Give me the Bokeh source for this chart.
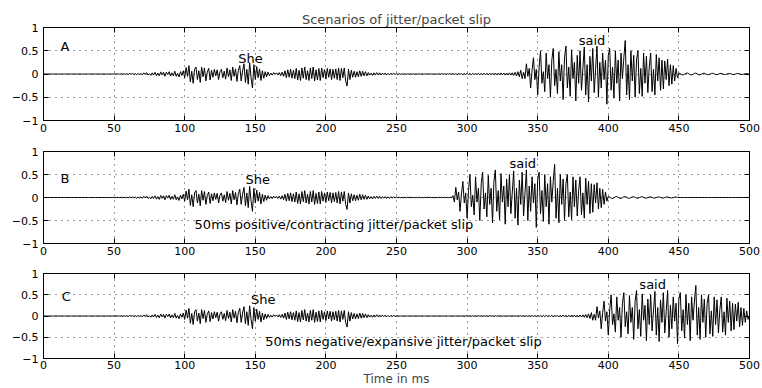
import numpy as np
from bokeh.plotting import figure
from bokeh.models import LinearAxis, FixedTicker, Label, Range1d
from bokeh.layouts import column
from bokeh.embed import file_html
from bokeh.resources import INLINE

# ---- waveform pieces (1 sample per ms) ----
she = [
    0, 0, 0, 0, 0, 0, 0, 0, 0, 0,
    0, 0, 0, 0, 0, 0, 0, 0, 0, 0,
    0, 0, 0, 0, 0, 0, 0, 0, 0, 0,
    0, 0, 0, 0, 0, 0, 0, 0, 0, 0,
    0, 0, 0, 0, 0, 0.001, -0.001, 0.001, -0.002, 0.002,
    -0.003, 0.004, -0.003, 0.005, -0.004, 0.006, -0.005, 0.004, -0.006, 0.007,
    -0.008, 0.01, -0.007, 0.012, -0.01, 0.009, -0.013, 0.011, -0.012, 0.015,
    -0.02, 0.025, -0.01, 0.03, -0.022, 0.008, -0.028, 0.024, -0.02, 0.035,
    -0.035, 0.018, -0.04, 0.045, -0.02, 0.038, -0.05, 0.04, -0.013, 0.048,
    -0.045, 0.025, -0.04, 0.06, -0.05, 0.012, -0.065, 0.05, -0.03, 0.07,
    -0.08, 0.14, -0.05, 0.18, -0.17, 0.06, -0.2, 0.1, 0.15, -0.12,
    0.07, -0.18, 0.15, -0.06, 0.13, -0.15, 0.04, 0.12, -0.13, 0.08,
    -0.07, 0.1, -0.04, 0.09, -0.12, 0.05, 0.1, -0.08, 0.06, -0.11,
    0.13, -0.06, 0.09, -0.14, 0.15, -0.05, 0.11, -0.16, 0.08, 0.18,
    -0.15, 0.07, 0.22, -0.18, 0.1, -0.22, 0.24, -0.08, -0.3, 0.2,
    -0.12, 0.16, -0.08, 0.11, -0.14, 0.07, -0.09, 0.05, -0.06, 0.04,
    -0.03, 0.02, -0.025, 0.03, -0.01, 0.025, -0.02, 0.03, -0.035, 0.04,
    -0.05, 0.07, -0.08, 0.09, -0.07, 0.1, -0.09, 0.08, -0.1, 0.12,
    -0.13, 0.08, -0.14, 0.13, -0.09, 0.15, -0.12, 0.07, -0.14, 0.13,
    -0.1, 0.15, -0.15, 0.09, -0.13, 0.12, -0.14, 0.13, -0.08, 0.1,
    -0.11, 0.12, -0.07, 0.11, -0.12, 0.1, -0.09, 0.11, -0.12, 0.13,
    -0.14, 0.12, -0.08, 0.13, -0.15, -0.26, 0.1, -0.12, 0.08, -0.07,
    0.06, -0.07, 0.05, -0.06, 0.07, -0.05, 0.06, -0.04, 0.05, -0.04,
    0.03, -0.025, 0.02, -0.03, 0.025, -0.02, 0.03, -0.02, 0.025, -0.02,
    0.02, -0.015, 0.02, -0.02, 0.015, -0.02, 0.015, -0.01, 0.015, -0.01,
]
gap = [
    0.008, -0.006, 0.007, -0.008, 0.006, -0.007, 0.005, -0.006, 0.007, -0.005,
    0.006, -0.007, 0.005, -0.006, 0.004, -0.005, 0.006, -0.004, 0.005, -0.006,
    0.004, -0.005, 0.006, -0.004, 0.005, -0.006, 0.004, -0.005, 0.003, -0.004,
    0.005, -0.004, 0.006, -0.005, 0.004, -0.006, 0.005, -0.004, 0.006, -0.005,
    0.007, -0.008, 0.006, -0.01, 0.012, -0.009, 0.011, -0.013, 0.01, -0.012,
    0.014, -0.012, 0.015, -0.016, 0.013, -0.015, 0.017, -0.014, 0.016, -0.018,
    0.015, -0.017, 0.019, -0.016, 0.018, -0.02, 0.017, -0.019, 0.021, -0.018,
    0.02, -0.022, 0.019, -0.021, 0.023, -0.02, 0.022, -0.024, 0.021, -0.023,
    0.025, -0.022, 0.027, -0.03, 0.035, -0.04, 0.05, -0.06, 0.08, -0.1,
]
said = [
    0.04, -0.1, 0.22, -0.05, 0.12, -0.3, 0.08, 0.35, -0.12, 0.1,
    -0.45, 0.15, 0.5, -0.2, 0.05, -0.38, 0.45, -0.1, 0.2, -0.5,
    0.3, 0.55, -0.25, 0.1, -0.42, 0.48, -0.15, 0.2, -0.55, 0.35,
    0.6, -0.3, 0.15, -0.48, 0.52, -0.1, 0.25, -0.58, 0.4, -0.2,
    0.5, -0.35, 0.12, 0.58, -0.45, 0.2, -0.6, 0.38, -0.15, 0.55,
    -0.4, 0.1, 0.6, -0.5, 0.25, -0.3, 0.45, -0.12, 0.3, -0.65,
    0.4, 0.55, -0.35, 0.15, -0.52, 0.5, -0.2, 0.3, -0.58, 0.45,
    -0.1, 0.35, 0.72, -0.45, 0.2, -0.55, 0.5, -0.15, 0.4, -0.5,
    0.3, 0.5, -0.42, 0.12, -0.48, 0.45, -0.2, 0.38, -0.4, 0.15,
    0.45, -0.38, 0.1, -0.45, 0.42, -0.15, 0.35, -0.35, 0.3, -0.32,
    0.28, -0.12, 0.32, -0.25, 0.2, -0.22, 0.18, -0.15, 0.12, -0.08,
]
tail = [
    0.02, 0.01, -0.015, -0.02, -0.005, 0.015, 0.02, 0.005, -0.015, -0.018,
    -0.005, 0.014, 0.018, 0.004, -0.014, -0.017, -0.004, 0.013, 0.016, 0.004,
    -0.012, -0.015, -0.003, 0.012, 0.015, 0.003, -0.011, -0.014, -0.003, 0.011,
    0.013, 0.003, -0.01, -0.012, -0.002, 0.01, 0.012, 0.002, -0.009, -0.011,
    -0.002, 0.009, 0.01, 0.002, -0.008, -0.01, -0.002, 0.008, 0.009, 0.002,
]
silence = [0.0] * 50

x_ticks = [0, 50, 100, 150, 200, 250, 300, 350, 400, 450, 500]
y_ticks = [-1, -0.5, 0, 0.5, 1]
y_tick_labels = {-1: "\u22121", -0.5: "\u22120.5", 0: "0", 0.5: "0.5", 1: "1"}

title_text = "Scenarios of jitter/packet slip"
xlabel_text = "Time in ms"

# scenario A: original; B: 50 ms contracted; C: 50 ms expanded
wave_a = she + gap + said + tail + [0.0]
wave_b = she + gap[:40] + said + tail + silence + [0.0]
wave_c = (she + silence + gap + said + tail)[:501]
t_ms = np.arange(501)

# labels: (text, x, y)
labels_a = [("A", 12, 0.6), ("She", 138, 0.34), ("said", 379, 0.71)]
labels_b = [("B", 12, 0.41), ("She", 143, 0.39), ("said", 330, 0.74),
            ("50ms positive/contracting jitter/packet slip", 107, -0.59)]
labels_c = [("C", 13, 0.47), ("She", 147, 0.39), ("said", 422, 0.73),
            ("50ms negative/expansive jitter/packet slip", 157, -0.6)]

FONT = "DejaVu Sans"


def panel(wave, labels, height, top, bottom):
    p = figure(width=762, height=height, x_range=Range1d(0, 500), y_range=Range1d(-1, 1),
               output_backend="svg", toolbar_location=None,
               min_border_left=43, min_border_right=13,
               min_border_top=top, min_border_bottom=bottom)
    p.outline_line_color = "black"
    p.outline_line_width = 1
    p.background_fill_color = "white"
    p.border_fill_color = "white"
    p.line(t_ms, wave, line_color="black", line_width=1)

    xb = p.below[0]
    yl = p.left[0]
    for ax in (xb, yl):
        ax.major_tick_in = 5
        ax.major_tick_out = 0
        ax.minor_tick_line_color = None
        ax.axis_line_color = "black"
        ax.major_tick_line_color = "black"
        ax.major_label_text_font = FONT
        ax.major_label_text_font_size = "11px"
        ax.major_label_text_color = "black"
    xb.ticker = FixedTicker(ticks=x_ticks)
    yl.ticker = FixedTicker(ticks=y_ticks)
    yl.major_label_overrides = y_tick_labels
    xb.major_label_standoff = 3
    yl.major_label_standoff = 5

    right = LinearAxis(ticker=FixedTicker(ticks=y_ticks), major_tick_in=5, major_tick_out=0,
                       minor_tick_line_color=None,
                       major_label_overrides={t: "" for t in y_ticks},
                       major_label_standoff=0, axis_line_color="black")
    above = LinearAxis(ticker=FixedTicker(ticks=x_ticks), major_tick_in=5, major_tick_out=0,
                       minor_tick_line_color=None,
                       major_label_overrides={t: "" for t in x_ticks},
                       major_label_standoff=0, axis_line_color="black")
    p.add_layout(right, "right")
    p.add_layout(above, "above")

    p.xgrid.ticker = FixedTicker(ticks=x_ticks)
    p.ygrid.ticker = FixedTicker(ticks=y_ticks)
    p.grid.grid_line_color = "#333333"
    p.grid.grid_line_dash = "1 5"
    p.grid.grid_line_width = 1

    for txt, x, y in labels:
        p.add_layout(Label(x=x, y=y, text=txt, text_font=FONT, text_font_size="13px",
                           text_align="left", text_baseline="middle", text_color="black"))
    return p


pa = panel(wave_a, labels_a, 143, 27, 23)
pa.title.text = title_text
pa.title.align = "center"
pa.title.text_font = FONT
pa.title.text_font_size = "13px"
pa.title.text_font_style = "normal"
pa.title.standoff = 2
pa.title.offset = 0

pb = panel(wave_b, labels_b, 122, 8, 22)
pc = panel(wave_c, labels_c, 123, 8, 22)
xc = pc.below[0]
xc.axis_label = xlabel_text
xc.axis_label_text_font = FONT
xc.axis_label_text_font_size = "12px"
xc.axis_label_text_font_style = "normal"
xc.axis_label_standoff = 0
xc.major_label_standoff = 2

layout = column(pa, pb, pc, spacing=0)
open("out.html", "w").write(file_html(layout, INLINE))
